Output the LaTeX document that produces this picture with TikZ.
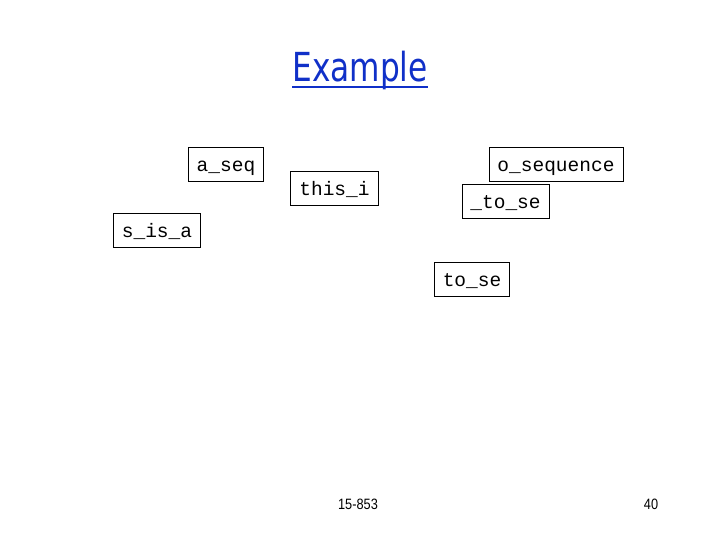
\documentclass[tikz,border=0pt]{standalone}
\usepackage{fontspec}
\setmainfont{Liberation Sans}
\newfontfamily\boxfont{Liberation Mono}
\newfontfamily\titlefont{DejaVu Sans}
\usepackage{tikz}
\usepackage{xcolor}
\definecolor{titleblue}{RGB}{16,48,200}

\begin{document}
\begin{tikzpicture}[x=1pt, y=-1pt,
      wordbox/.style={draw, line width=0.8pt, font=\boxfont\fontsize{19.5}{20}\selectfont,
         inner xsep=8.5pt, minimum height=34pt, text height=16pt, text depth=2pt},
      footer/.style={font=\fontsize{15}{17}\selectfont, xscale=0.85, transform shape}]
      \useasboundingbox (0,0) rectangle (720,540);
      \node[font=\titlefont\fontsize{40}{42}\selectfont, text=titleblue, inner sep=0pt,
         xscale=0.78, transform shape] (title) at (360,70) {Example};
      \draw[titleblue, line width=2pt] ([yshift=-6pt]title.base west) -- ([yshift=-6pt]title.base east);
      \node[wordbox] (aseq) at (226,164.5) {a\_seq};
      \node[wordbox] (thisi) at (334.5,188.5) {this\_i};
      \node[wordbox] (oseq) at (556,164.5) {o\_sequence};
      \node[wordbox] (utose) at (505.5,201.5) {\_to\_se};
      \node[wordbox] (sisa) at (157,230) {s\_is\_a};
      \node[wordbox] (tose) at (472,279.5) {to\_se};
      \node[footer] (course) at (358,504) {15-853};
      \node[footer] (page) at (651,504) {40};
   \end{tikzpicture}
\end{document}
